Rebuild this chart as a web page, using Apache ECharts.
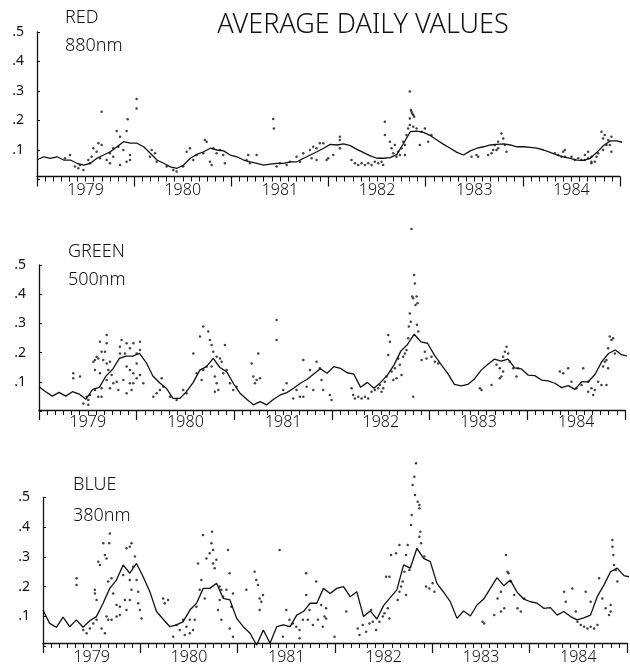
<!DOCTYPE html>
<html><head><meta charset="utf-8">
<script src="https://cdn.jsdelivr.net/npm/echarts@6/dist/echarts.min.js"></script>
<style>html,body{margin:0;padding:0;background:#fff}#c{width:630px;height:668px}</style>
</head><body><div id="c"></div>
<script>
// ---- data ----
const startYear = 1979, endYear = 1985;
const meanStep = 0.0686;            // sampling step of the running mean, in years
const yearLabels = ['1979','1980','1981','1982','1983','1984'];
const yTickLabels = ['', '.1', '.2', '.3', '.4', '.5'];
const panelNames = ['RED', 'GREEN', 'BLUE'];
const panelWavelengths = ['880nm', '500nm', '380nm'];
const titleText = 'AVERAGE DAILY VALUES';

const redMean = [
 .066,.077,.072,.077,.066,.066,.055,.049,.055,.072,.083,.094,.111,.128,.123,.123,.111,.089,.066,.055,.043,.038,
 .049,.072,.085,.094,.106,.100,.097,.083,.077,.066,.060,.055,.049,.052,.055,.055,.060,.060,.072,.083,.094,.106,
 .119,.117,.121,.115,.102,.091,.080,.072,.072,.074,.085,.123,.162,.164,.160,.149,.134,.119,.106,.092,.083,.097,
 .106,.111,.117,.119,.121,.117,.111,.111,.109,.106,.100,.092,.083,.077,.072,.066,.065,.072,.092,.115,.131,.131,.125];
const greenMean = [
 .083,.066,.051,.064,.051,.066,.058,.040,.074,.081,.120,.143,.180,.188,.188,.197,.166,.120,.097,.078,.043,.043,
 .066,.097,.140,.152,.180,.149,.135,.095,.061,.040,.021,.032,.021,.040,.055,.063,.078,.095,.108,.127,.145,.129,
 .152,.146,.131,.126,.081,.098,.078,.098,.123,.158,.205,.228,.263,.237,.232,.192,.160,.129,.091,.086,.091,.110,
 .140,.160,.178,.171,.178,.148,.144,.123,.121,.106,.103,.095,.080,.087,.074,.100,.100,.126,.169,.197,.209,.192,.188];
const blueMean = [
 .121,.076,.063,.097,.065,.088,.063,.085,.099,.144,.194,.222,.273,.245,.278,.233,.183,.116,.090,.065,.071,.082,
 .121,.144,.194,.194,.211,.160,.155,.093,.065,.043,.003,.054,.009,.065,.071,.065,.104,.116,.144,.144,.194,.177,
 .194,.200,.166,.183,.099,.118,.091,.136,.163,.189,.273,.262,.329,.295,.284,.211,.181,.149,.093,.118,.101,.138,
 .158,.194,.230,.203,.222,.181,.158,.149,.144,.127,.129,.104,.116,.099,.088,.095,.104,.166,.205,.250,.262,.237,.232];

const redDaily = [
 [1979.665,.230],[1980.025,.273],[1980.025,.241],[1979.933,.204],[1981.431,.205],[1981.438,.173],[1979.820,.164],
 [1979.922,.164],[1979.854,.145],[1979.631,.123],[1979.665,.117],[1979.580,.106],[1979.614,.094],[1979.562,.077],
 [1979.648,.072],[1979.751,.089],[1979.785,.106],[1979.837,.111],[1979.888,.100],[1979.957,.083],[1979.957,.066],
 [1979.922,.060],[1979.717,.066],[1979.528,.066],[1979.545,.055],[1979.442,.049],[1979.425,.038],[1979.477,.032],
 [1979.391,.044],[1979.751,.055],[1979.854,.049],[1979.785,.077],[1979.340,.083],[1979.288,.072],
 [1980.728,.134],[1980.746,.128],[1980.574,.106],[1980.540,.094],[1980.643,.083],[1980.711,.089],[1980.814,.106],
 [1980.848,.089],[1980.780,.060],[1980.797,.049],[1980.917,.083],[1980.934,.055],[1980.883,.100],[1980.608,.066],
 [1980.505,.044],[1980.403,.032],[1980.334,.044],[1980.437,.027],[1980.231,.060],[1980.214,.089],[1980.180,.100],
 [1980.163,.077],
 [1981.174,.083],[1981.157,.066],[1981.260,.083],[1981.191,.055],[1981.500,.055],[1981.603,.060],[1981.671,.077],
 [1981.740,.089],[1981.809,.100],[1981.843,.111],[1981.877,.106],[1981.911,.123],[1981.946,.123],[1981.826,.072],
 [1981.877,.066],[1981.980,.066],[1981.706,.060],[1981.569,.049],[1981.466,.044],
 [1981.997,.072],[1982.117,.145],[1982.117,.134],[1982.117,.106],[1982.049,.083],
 [1982.237,.066],[1982.272,.055],[1982.306,.049],[1982.340,.055],[1982.375,.049],[1982.409,.055],[1982.443,.049],
 [1982.477,.060],[1982.512,.055],[1982.546,.060],[1982.563,.049],[1982.580,.196],[1982.580,.151],
 [1982.632,.128],[1982.649,.106],[1982.666,.089],[1982.683,.117],[1982.717,.094],[1982.700,.077],[1982.752,.106],
 [1982.769,.128],[1982.735,.083],[1982.786,.117],[1982.803,.151],[1982.820,.173],[1982.837,.185],[1982.855,.230],
 [1982.848,.236],[1982.862,.224],[1982.872,.219],[1982.882,.213],[1982.837,.207],[1982.872,.179],[1982.906,.173],
 [1982.958,.162],[1982.992,.173],[1982.940,.117],[1983.026,.128],[1983.060,.151],[1982.786,.083],[1982.837,.298],
 [1983.472,.077],[1983.541,.077],[1983.643,.083],[1983.523,.083],[1983.678,.089],[1983.729,.100],[1983.746,.128],
 [1983.780,.156],[1983.798,.139],[1983.712,.117],[1983.746,.106],[1983.815,.117],[1983.832,.094],[1983.695,.100],
 [1984.329,.089],[1984.363,.083],[1984.398,.077],[1984.432,.077],[1984.415,.094],[1984.432,.100],[1984.501,.077],
 [1984.535,.066],[1984.569,.072],[1984.604,.066],[1984.638,.066],[1984.672,.072],[1984.706,.060],[1984.672,.094],
 [1984.706,.077],[1984.741,.060],[1984.758,.077],[1984.775,.089],[1984.809,.162],[1984.826,.139],[1984.843,.151],
 [1984.878,.134],[1984.895,.117],[1984.912,.145],[1984.826,.100],[1984.861,.117],[1984.912,.094],[1984.706,.055],
 [1984.638,.083]];

const greenDaily = [
 [1979.351,.129],[1979.351,.112],[1979.420,.118],[1979.556,.169],[1979.573,.175],[1979.607,.180],[1979.624,.237],
 [1979.693,.232],[1979.693,.260],[1979.641,.203],[1979.676,.203],[1979.590,.186],[1979.658,.175],[1979.573,.140],
 [1979.624,.129],[1979.693,.163],[1979.727,.169],[1979.710,.140],[1979.693,.106],[1979.744,.123],[1979.761,.095],
 [1979.641,.078],[1979.573,.072],[1979.607,.049],[1979.522,.055],[1979.505,.038],[1979.454,.026],[1979.505,.021],
 [1979.488,.049],[1979.641,.049],[1979.727,.078],[1979.795,.100],[1979.829,.220],[1979.846,.243],[1979.829,.197],
 [1979.880,.197],[1979.897,.232],[1979.931,.215],[1979.966,.232],[1980.000,.197],[1980.034,.237],[1980.034,.209],
 [1980.000,.163],[1979.897,.152],[1979.931,.140],[1979.966,.129],[1980.000,.112],[1979.931,.095],[1979.863,.106],
 [1979.812,.072],[1980.034,.123],[1979.966,.095],[1979.948,.072],[1979.897,.061],[1980.068,.095],
 [1980.256,.112],[1980.238,.072],[1980.170,.049],[1980.204,.061],[1980.273,.083],[1980.341,.049],[1980.409,.038],
 [1980.477,.072],[1980.511,.061],[1980.580,.197],[1980.614,.129],[1980.648,.255],[1980.682,.140],[1980.716,.152],
 [1980.665,.106],[1980.682,.289],[1980.733,.272],[1980.750,.243],[1980.767,.226],[1980.784,.203],[1980.819,.186],
 [1980.853,.180],[1980.870,.169],[1980.767,.152],[1980.801,.118],[1980.819,.095],[1980.836,.072],[1980.887,.129],
 [1980.921,.140],[1980.904,.226],[1980.955,.095],[1980.989,.072],[1981.023,.083],[1980.801,.066],
 [1981.177,.163],[1981.194,.118],[1981.211,.095],[1981.228,.106],[1981.245,.197],[1981.262,.112],
 [1981.433,.312],[1981.433,.243],[1981.706,.175],[1981.774,.140],[1981.842,.169],[1981.876,.146],[1981.535,.095],
 [1981.637,.072],[1981.671,.049],[1981.740,.083],[1981.808,.072],[1981.910,.072],[1981.893,.106],[1981.706,.049],
 [1981.603,.043],[1981.501,.072],
 [1981.978,.055],[1981.996,.038],[1982.200,.078],[1982.217,.055],[1982.234,.043],[1982.269,.049],[1982.303,.043],
 [1982.337,.049],[1982.371,.043],[1982.405,.066],[1982.439,.072],[1982.473,.078],[1982.490,.089],[1982.507,.066],
 [1982.524,.078],[1982.541,.100],[1982.558,.118],[1982.576,.192],[1982.576,.260],[1982.593,.237],[1982.610,.135],
 [1982.627,.106],[1982.644,.146],[1982.661,.112],[1982.678,.180],[1982.695,.158],[1982.712,.123],[1982.729,.186],
 [1982.746,.197],[1982.763,.209],[1982.780,.249],[1982.787,.289],[1982.797,.334],[1982.807,.306],[1982.821,.392],
 [1982.831,.386],[1982.841,.466],[1982.848,.437],[1982.855,.363],[1982.866,.392],[1982.876,.369],[1982.869,.295],
 [1982.883,.272],[1982.831,.049],[1982.814,.623],
 [1982.951,.203],[1982.968,.180],[1983.019,.186],[1983.053,.169],[1983.087,.163],[1982.917,.175],
 [1983.514,.078],[1983.531,.072],[1983.633,.089],[1983.684,.158],[1983.718,.146],[1983.735,.118],[1983.752,.135],
 [1983.770,.203],[1983.787,.220],[1983.752,.186],[1983.804,.197],[1983.821,.169],[1983.855,.146],[1983.889,.118],
 [1983.718,.112],[1983.906,.146],
 [1984.333,.135],[1984.367,.129],[1984.418,.146],[1984.452,.100],[1984.503,.078],[1984.555,.089],[1984.572,.146],
 [1984.623,.066],[1984.657,.078],[1984.674,.055],[1984.691,.072],[1984.623,.100],[1984.725,.100],[1984.759,.089],
 [1984.810,.089],[1984.827,.215],[1984.844,.255],[1984.862,.243],[1984.879,.249],[1984.896,.197],[1984.827,.146],
 [1984.793,.169],[1984.776,.152],[1984.810,.175]];

const blueDaily = [
 [1979.345,.228],[1979.345,.205],[1979.533,.189],[1979.533,.177],[1979.568,.284],[1979.550,.155],[1979.585,.273],
 [1979.619,.346],[1979.636,.306],[1979.653,.295],[1979.670,.217],[1979.680,.346],[1979.687,.379],[1979.704,.228],
 [1979.721,.177],[1979.756,.138],[1979.790,.104],[1979.790,.132],[1979.824,.239],[1979.841,.155],[1979.858,.329],
 [1979.892,.334],[1979.909,.346],[1979.944,.301],[1979.926,.267],[1979.892,.222],[1979.909,.189],[1979.961,.222],
 [1979.978,.144],[1979.995,.121],[1980.012,.093],[1979.978,.183],[1979.892,.155],[1979.858,.121],[1979.756,.099],
 [1979.704,.088],[1979.653,.099],[1979.550,.088],[1979.516,.076],[1979.482,.059],[1979.448,.043],[1979.414,.054],
 [1979.602,.059],[1979.636,.043],[1979.670,.088],
 [1980.234,.160],[1980.251,.144],[1980.285,.155],[1980.337,.031],[1980.371,.071],[1980.405,.054],[1980.439,.088],
 [1980.474,.065],[1980.508,.043],[1980.542,.054],[1980.508,.088],[1980.456,.037],[1980.559,.088],[1980.576,.132],
 [1980.593,.278],[1980.610,.189],[1980.627,.222],[1980.662,.160],[1980.644,.374],[1980.679,.295],[1980.713,.312],
 [1980.730,.346],[1980.737,.385],[1980.747,.323],[1980.747,.278],[1980.764,.262],[1980.781,.290],[1980.815,.200],
 [1980.832,.189],[1980.850,.166],[1980.884,.189],[1980.901,.323],[1980.918,.245],[1980.952,.177],[1980.935,.132],
 [1980.815,.155],[1980.832,.088],[1980.798,.121],[1980.952,.031],[1980.918,.059],
 [1981.174,.250],[1981.191,.222],[1981.226,.160],[1981.243,.149],[1981.260,.172],[1981.226,.121],[1981.209,.205],
 [1981.089,.189],
 [1981.431,.323],[1981.499,.121],[1981.533,.088],[1981.568,.076],[1981.602,.065],[1981.636,.054],[1981.670,.088],
 [1981.704,.172],[1981.721,.088],[1981.738,.121],[1981.773,.071],[1981.807,.217],[1981.824,.088],[1981.858,.138],
 [1981.892,.099],[1981.909,.127],[1981.875,.065],[1981.704,.245],[1981.465,.031],[1981.636,.026],
 [1981.909,.093],[1981.995,.031],[1982.115,.116],[1982.234,.059],[1982.251,.037],[1982.285,.071],[1982.320,.048],
 [1982.354,.076],[1982.388,.082],[1982.371,.121],[1982.422,.054],[1982.456,.082],[1982.491,.099],[1982.508,.110],
 [1982.542,.127],[1982.559,.093],[1982.576,.306],[1982.627,.312],[1982.525,.233],[1982.559,.233],[1982.644,.155],
 [1982.662,.183],[1982.679,.200],[1982.696,.217],[1982.713,.250],[1982.730,.172],[1982.747,.340],[1982.764,.256],
 [1982.781,.407],[1982.788,.441],[1982.798,.542],[1982.815,.570],[1982.832,.615],[1982.822,.508],[1982.850,.486],
 [1982.867,.475],[1982.867,.464],[1982.877,.385],[1982.867,.368],[1982.884,.346],[1982.918,.301],[1982.935,.200],
 [1982.969,.194],[1983.003,.211],[1983.021,.183],[1982.730,.306],[1982.662,.340],
 [1983.533,.076],[1983.516,.082],[1983.636,.104],[1983.670,.160],[1983.705,.183],[1983.739,.127],[1983.756,.306],
 [1983.773,.250],[1983.783,.245],[1983.807,.217],[1983.841,.172],[1983.875,.127],[1983.909,.116],[1983.944,.160],
 [1983.705,.116],
 [1984.354,.183],[1984.371,.149],[1984.439,.194],[1984.474,.116],[1984.491,.082],[1984.525,.071],[1984.559,.065],
 [1984.593,.059],[1984.627,.065],[1984.662,.059],[1984.696,.071],[1984.576,.183],[1984.627,.149],[1984.713,.228],
 [1984.747,.160],[1984.781,.127],[1984.815,.104],[1984.832,.138],[1984.850,.357],[1984.850,.334],[1984.860,.306],
 [1984.867,.273],[1984.884,.256],[1984.901,.217],[1984.832,.116]];

// ---- chart ----
const means = [redMean, greenMean, blueMean];
const dailies = [redDaily, greenDaily, blueDaily];
const FONT = '"Noto Sans", "Liberation Sans", sans-serif';
const INK = '#111';

const grids = [
  {left: 37, right: 10, top: 32,    bottom: 488.5},
  {left: 39, right: 5,  top: 265,   bottom: 257},
  {left: 43, right: 2,  top: 497.5, bottom: 22}
];
const axisOffsets = [-3, -1, -3];

const xAxis = [], yAxis = [], series = [];
grids.forEach((g, i) => {
  xAxis.push({
    type: 'value', gridIndex: i, min: startYear, max: endYear, interval: 1, position: 'bottom',
    offset: axisOffsets[i],
    axisLine: {show: true, onZero: false, lineStyle: {color: INK, width: 1.3}},
    axisTick: {show: true, length: 10, lineStyle: {color: INK, width: 1.2}},
    minorTick: {show: true, splitNumber: 12, length: 5, lineStyle: {color: INK, width: 1}},
    axisLabel: {show: false}, splitLine: {show: false}
  });
  xAxis.push({
    type: 'value', gridIndex: i, min: startYear, max: endYear, interval: 0.5, position: 'bottom',
    axisLine: {show: false, onZero: false}, axisTick: {show: false}, splitLine: {show: false},
    axisLabel: {
      show: true, margin: 3, fontSize: 16, fontWeight: 300, fontFamily: FONT, color: INK,
      formatter: v => (Math.abs((v % 1) - 0.5) < 1e-6) ? yearLabels[Math.floor(v) - startYear] : ''
    }
  });
  yAxis.push({
    type: 'value', gridIndex: i, min: 0, max: 0.5, interval: 0.1,
    axisLine: {show: true, onZero: false, lineStyle: {color: INK, width: 1.3}},
    axisTick: {show: true, length: 3, inside: true, lineStyle: {color: INK}},
    splitLine: {show: false},
    axisLabel: {margin: 13, fontSize: 14, fontFamily: FONT, color: INK,
      formatter: v => yTickLabels[Math.round(v * 10)] || ''}
  });
  series.push({
    type: 'line', xAxisIndex: 2 * i, yAxisIndex: i, showSymbol: false, silent: true,
    data: means[i].map((v, k) => [startYear + k * meanStep, v]),
    lineStyle: {color: INK, width: 1.3}, clip: true
  });
  series.push({
    type: 'scatter', xAxisIndex: 2 * i, yAxisIndex: i, symbol: 'circle', symbolSize: 2.5,
    data: dailies[i], itemStyle: {color: INK}, clip: false, silent: true
  });
});

const labelPos = [[65, 17.5, 45.5], [68, 251.5, 280], [73, 485, 516]];
const graphic = [{
  type: 'text', x: 363, y: 25,
  style: {text: titleText, font: '300 27px ' + FONT, fill: INK, align: 'center', verticalAlign: 'middle'}
}];
labelPos.forEach((p, i) => {
  graphic.push({type: 'text', x: p[0], y: p[1],
    style: {text: panelNames[i], font: '300 18px ' + FONT, fill: INK, align: 'left', verticalAlign: 'middle'}});
  graphic.push({type: 'text', x: p[0], y: p[2],
    style: {text: panelWavelengths[i], font: '300 18px ' + FONT, fill: INK, align: 'left', verticalAlign: 'middle'}});
});

const chart = echarts.init(document.getElementById('c'), null, {renderer: 'canvas'});
chart.setOption({
  animation: false, backgroundColor: '#fff',
  grid: grids, xAxis, yAxis, series, graphic
});
</script>
</body></html>
